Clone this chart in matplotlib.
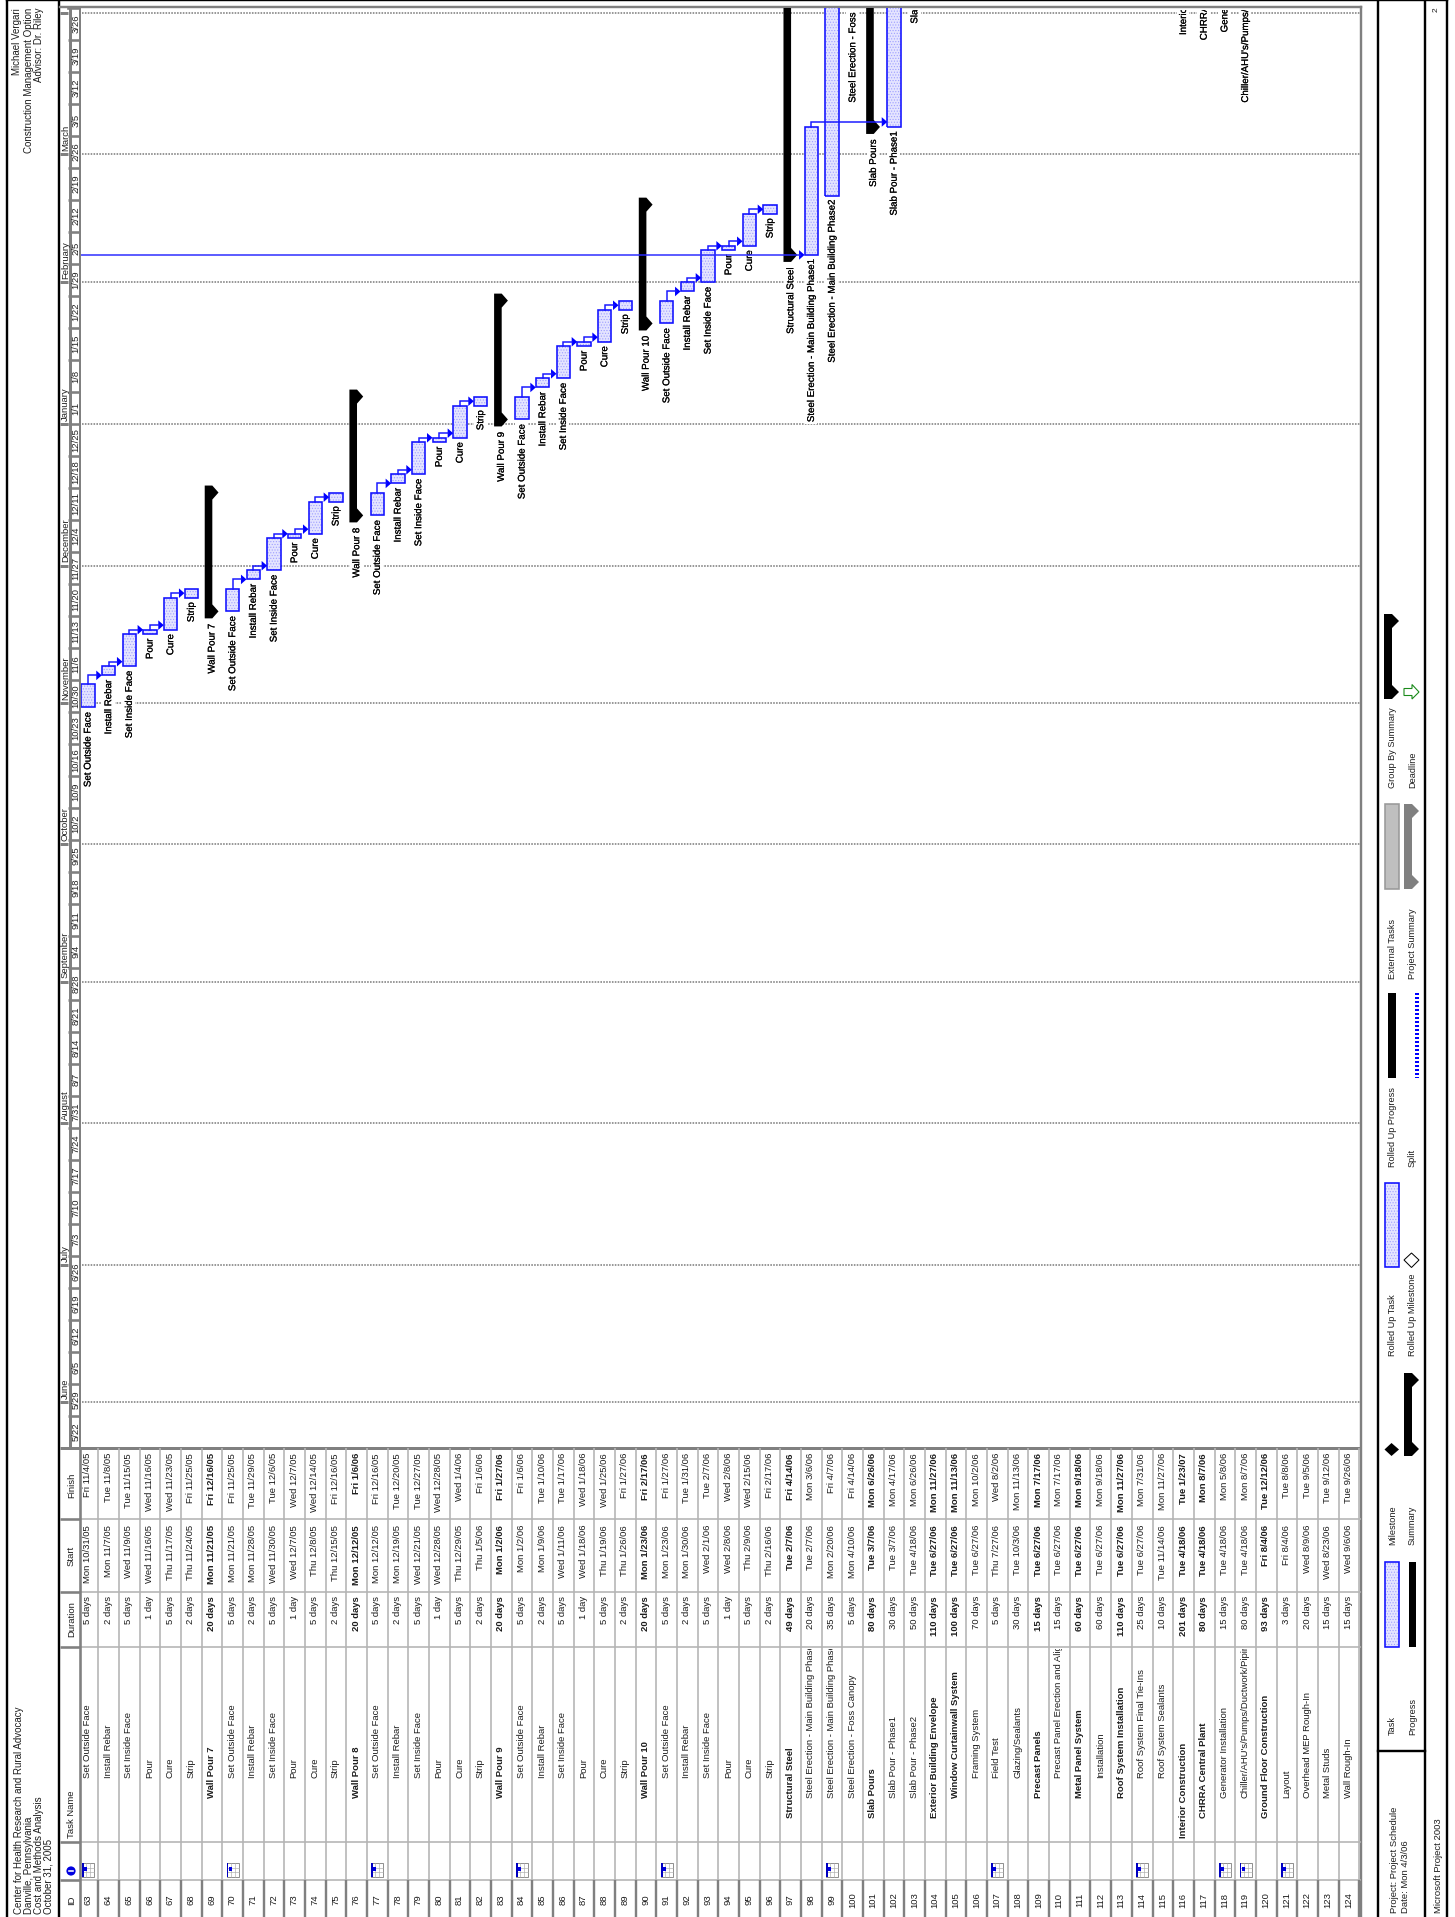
import datetime as dt
import matplotlib
matplotlib.use("Agg")
import matplotlib.pyplot as plt
import matplotlib.dates as mdates
import matplotlib.patheffects as pe
from matplotlib.patches import Polygon, Rectangle, Circle
from matplotlib.transforms import blended_transform_factory as blend, Bbox, TransformedBbox

plt.rcParams['font.family'] = ['Liberation Sans', 'DejaVu Sans']
plt.rcParams['hatch.linewidth'] = 0.5

# ---------- data ----------
ids = list(range(63, 125))
names = ["Set Outside Face","Install Rebar","Set Inside Face","Pour","Cure","Strip","Wall Pour 7",
 "Set Outside Face","Install Rebar","Set Inside Face","Pour","Cure","Strip","Wall Pour 8",
 "Set Outside Face","Install Rebar","Set Inside Face","Pour","Cure","Strip","Wall Pour 9",
 "Set Outside Face","Install Rebar","Set Inside Face","Pour","Cure","Strip","Wall Pour 10",
 "Set Outside Face","Install Rebar","Set Inside Face","Pour","Cure","Strip","Structural Steel",
 "Steel Erection - Main Building Phase1","Steel Erection - Main Building Phase2","Steel Erection - Foss Canopy",
 "Slab Pours","Slab Pour - Phase1","Slab Pour - Phase2","Exterior Building Envelope","Window Curtainwall System",
 "Framing System","Field Test","Glazing/Sealants","Precast Panels","Precast Panel Erection and Alignment",
 "Metal Panel System","Installation","Roof System Installation","Roof System Final Tie-Ins","Roof System Sealants",
 "Interior Construction","CHRRA Central Plant","Generator Installation","Chiller/AHU's/Pumps/Ductwork/Piping",
 "Ground Floor Construction","Layout","Overhead MEP Rough-In","Metal Studs","Wall Rough-In"]
table_cut_names = {98: "Steel Erection - Main Building Phase", 99: "Steel Erection - Main Building Phase",
                   110: "Precast Panel Erection and Alig", 119: "Chiller/AHU's/Pumps/Ductwork/Pipir"}
levels = [3,3,3,3,3,3,2, 3,3,3,3,3,3,2, 3,3,3,3,3,3,2, 3,3,3,3,3,3,2, 3,3,3,3,3,3,1,
 2,2,2, 1,2,2, 1,2, 3,3,3, 2,3, 2,3, 2,3,3, 0,1,2,2, 1,2,2,2,2]
summary_ids = [69,76,83,90,97,101,104,105,109,111,113,116,117,120]
durations = ["5 days","2 days","5 days","1 day","5 days","2 days","20 days",
 "5 days","2 days","5 days","1 day","5 days","2 days","20 days",
 "5 days","2 days","5 days","1 day","5 days","2 days","20 days",
 "5 days","2 days","5 days","1 day","5 days","2 days","20 days",
 "5 days","2 days","5 days","1 day","5 days","2 days","49 days",
 "20 days","35 days","5 days","80 days","30 days","50 days","110 days","100 days","70 days","5 days","30 days",
 "15 days","15 days","60 days","60 days","110 days","25 days","10 days","201 days","80 days","15 days","80 days",
 "93 days","3 days","20 days","15 days","15 days"]
starts = ["Mon 10/31/05","Mon 11/7/05","Wed 11/9/05","Wed 11/16/05","Thu 11/17/05","Thu 11/24/05","Mon 11/21/05",
 "Mon 11/21/05","Mon 11/28/05","Wed 11/30/05","Wed 12/7/05","Thu 12/8/05","Thu 12/15/05","Mon 12/12/05",
 "Mon 12/12/05","Mon 12/19/05","Wed 12/21/05","Wed 12/28/05","Thu 12/29/05","Thu 1/5/06","Mon 1/2/06",
 "Mon 1/2/06","Mon 1/9/06","Wed 1/11/06","Wed 1/18/06","Thu 1/19/06","Thu 1/26/06","Mon 1/23/06",
 "Mon 1/23/06","Mon 1/30/06","Wed 2/1/06","Wed 2/8/06","Thu 2/9/06","Thu 2/16/06","Tue 2/7/06",
 "Tue 2/7/06","Mon 2/20/06","Mon 4/10/06","Tue 3/7/06","Tue 3/7/06","Tue 4/18/06","Tue 6/27/06","Tue 6/27/06",
 "Tue 6/27/06","Thu 7/27/06","Tue 10/3/06","Tue 6/27/06","Tue 6/27/06","Tue 6/27/06","Tue 6/27/06","Tue 6/27/06",
 "Tue 6/27/06","Tue 11/14/06","Tue 4/18/06","Tue 4/18/06","Tue 4/18/06","Tue 4/18/06","Fri 8/4/06","Fri 8/4/06",
 "Wed 8/9/06","Wed 8/23/06","Wed 9/6/06"]
finishes = ["Fri 11/4/05","Tue 11/8/05","Tue 11/15/05","Wed 11/16/05","Wed 11/23/05","Fri 11/25/05","Fri 12/16/05",
 "Fri 11/25/05","Tue 11/29/05","Tue 12/6/05","Wed 12/7/05","Wed 12/14/05","Fri 12/16/05","Fri 1/6/06",
 "Fri 12/16/05","Tue 12/20/05","Tue 12/27/05","Wed 12/28/05","Wed 1/4/06","Fri 1/6/06","Fri 1/27/06",
 "Fri 1/6/06","Tue 1/10/06","Tue 1/17/06","Wed 1/18/06","Wed 1/25/06","Fri 1/27/06","Fri 2/17/06",
 "Fri 1/27/06","Tue 1/31/06","Tue 2/7/06","Wed 2/8/06","Wed 2/15/06","Fri 2/17/06","Fri 4/14/06",
 "Mon 3/6/06","Fri 4/7/06","Fri 4/14/06","Mon 6/26/06","Mon 4/17/06","Mon 6/26/06","Mon 11/27/06","Mon 11/13/06",
 "Mon 10/2/06","Wed 8/2/06","Mon 11/13/06","Mon 7/17/06","Mon 7/17/06","Mon 9/18/06","Mon 9/18/06","Mon 11/27/06",
 "Mon 7/31/06","Mon 11/27/06","Tue 1/23/07","Mon 8/7/06","Mon 5/8/06","Mon 8/7/06","Tue 12/12/06","Tue 8/8/06",
 "Tue 9/5/06","Tue 9/12/06","Tue 9/26/06"]
calendar_ids = [63,70,77,84,91,99,107,114,118,119,121]
links = [(63,64),(64,65),(65,66),(66,67),(67,68),(70,71),(71,72),(72,73),(73,74),(74,75),
         (77,78),(78,79),(79,80),(80,81),(81,82),(84,85),(85,86),(86,87),(87,88),(88,89),
         (91,92),(92,93),(93,94),(94,95),(95,96),(98,102)]
incoming_link = 98
week_labels = ["5/22","5/29","6/5","6/12","6/19","6/26","7/3","7/10","7/17","7/24","7/31","8/7","8/14","8/21","8/28",
 "9/4","9/11","9/18","9/25","10/2","10/9","10/16","10/23","10/30","11/6","11/13","11/20","11/27","12/4","12/11",
 "12/18","12/25","1/1","1/8","1/15","1/22","1/29","2/5","2/12","2/19","2/26","3/5","3/12","3/19","3/26"]
month_labels = ["June","July","August","September","October","November","December","January","February","March"]
month_dates = ["6/1/05","7/1/05","8/1/05","9/1/05","10/1/05","11/1/05","12/1/05","1/1/06","2/1/06","3/1/06"]
month_line_last = "4/1/06"
last_labelled_start = "4/30/06"

# ---------- helpers ----------
W, H = 1455, 1917
RPX, DPX = 20.67, 4.57   # px per row, px per day
FS = 7.0                 # gantt / header text
TFS = 6.8                # table and legend text
GRAY = '#808080'; LGRAY = '#b4b4b4'; BLUE = '#0000ff'
px = 0.72                # 1 px in points
DX = 1.5                 # optical centring of rotated text

def parse(s):
    s = s.split()[-1]
    m, d, y = s.split('/')
    return mdates.date2num(dt.datetime(2000 + int(y), int(m), int(d)))

def week_date(s):
    m, d = s.split('/')
    return mdates.date2num(dt.datetime(2005 if int(m) >= 5 else 2006, int(m), int(d)))

fig = plt.figure(figsize=(W/100, H/100), dpi=100, facecolor='white')
page = fig.add_axes([0, 0, 1, 1]); page.set_xlim(0, W); page.set_ylim(H, 0); page.axis('off')

def pax(x0, y0, x1, y1):
    return fig.add_axes([x0/W, 1-y1/H, (x1-x0)/W, (y1-y0)/H], facecolor='none')

d0 = mdates.date2num(dt.datetime(2006, 1, 1))
ylim = (d0-(1448-424)/DPX, d0+(424-8)/DPX)
gx0, gx1, gy0, gy1 = 81, 1361, 8, 1448
g = pax(gx0, gy0, gx1, gy1)
g.set_xlim(63+(gx0-88)/RPX, 63+(gx1-88)/RPX); g.set_ylim(*ylim); g.axis('off')
ts = pax(60, gy0, 81, gy1); ts.set_xlim(60, 81); ts.set_ylim(*ylim); ts.axis('off')
trow = blend(g.transData, page.transData)

S = {i: parse(s) for i, s in zip(ids, starts)}
F = {i: parse(s)+1 for i, s in zip(ids, finishes)}
N = dict(zip(ids, names))

def summary_shape(xl, xm, xr, yt, yb, cap):
    return [(xl, yb+cap), (xm, yb+cap), (xr, yb), (xm, yb-cap), (xm, yt+cap), (xr, yt), (xm, yt-cap), (xl, yt-cap)]

# ---------- frame ----------
for x in [7, 59, 1378, 1425, 1447]:
    page.plot([x, x], [0, H], color='k', lw=2.4*px, solid_capstyle='butt')
page.plot([7, 1447], [0.5, 0.5], color='k', lw=2.4*px)
page.plot([1378, 1425], [1751, 1751], color='k', lw=2.4*px)
page.plot([60, 1361], [7, 7], color=GRAY, lw=2.4*px)
page.plot([1361, 1361], [7, H], color=GRAY, lw=2.4*px)

# ---------- timescale ----------
for lx in [69.5, 79.5]:
    ts.plot([lx, lx], ylim, color=GRAY, lw=3*px, solid_capstyle='butt')
for w in week_labels:
    d = week_date(w)
    ts.plot([68, 81], [d, d], color=GRAY, lw=2.6*px, solid_capstyle='butt')
    ts.text(74.8+DX-0.5, d+3.5, w, rotation=90, ha='center', va='center', fontsize=TFS, color='#222222')
ts.plot([68, 81], [ylim[1], ylim[1]], color=GRAY, lw=2.6*px)
for m, s in zip(month_labels, month_dates):
    d = parse(s)
    ts.plot([60, 68], [d, d], color=GRAY, lw=3*px, solid_capstyle='butt')
    ts.text(64+DX, d+0.7, m, rotation=90, ha='center', va='bottom', fontsize=TFS, color='#222222')
ts.plot([60, 68], [parse(month_line_last)]*2, color=GRAY, lw=3*px, solid_capstyle='butt')

# ---------- month grid ----------
for s in month_dates + [month_line_last]:
    g.plot([63+(82-88)/RPX, g.get_xlim()[1]], [parse(s)]*2, color=GRAY, lw=1.6*px,
           linestyle=(0, (1, 0.8)), zorder=1)

# ---------- bars ----------
bw = 13.4/RPX
tasks = [i for i in ids if i not in summary_ids]
g.bar(tasks, [F[i]-S[i] for i in tasks], bottom=[S[i] for i in tasks], width=bw, facecolor='#e4e4ff',
      edgecolor='#a0a0ff', linewidth=0, hatch='......', zorder=2)
g.bar(tasks, [F[i]-S[i] for i in tasks], bottom=[S[i] for i in tasks], width=bw, fill=False,
      edgecolor='#1010ff', linewidth=1.6*px, zorder=2.1)
for i in summary_ids:
    pts = summary_shape(i-7.3/RPX, i+0.3/RPX, i+6.5/RPX, -F[i], -S[i], 7/DPX)
    g.add_patch(Polygon([(x, -y) for x, y in pts], closed=True, fc='k', ec='none', zorder=2.2))

# ---------- labels ----------
label_clip = TransformedBbox(Bbox([[gx0, 10], [gx1, gy1]]), page.transData)
for i in ids:
    if S[i] > parse(last_labelled_start):
        continue
    gap = 12.5 if i in summary_ids else 4.5
    t = g.text(i-0.5/RPX, S[i]-gap/DPX, N[i], rotation=90, ha='center', va='top', fontsize=FS, color='k',
               clip_on=True, zorder=3, bbox=dict(fc='white', ec='none', pad=1),
               path_effects=[pe.withStroke(linewidth=0.12, foreground='k')])
    t.set_clip_box(label_clip)

# ---------- links ----------
def arrow(row, y):
    tip = row - 6.9/RPX
    g.add_patch(Polygon([(tip, y), (tip-5.5/RPX, y+4.8/DPX), (tip-5.5/RPX, y-4.8/DPX)], closed=True,
                        fc=BLUE, ec='none', zorder=5))
    return tip - 5/RPX

for a, b in links:
    ya = F[a]
    y = max(ya + 4.5/DPX, S[b])
    if b == 102:
        y = ya + 5/DPX
    xe = arrow(b, y)
    g.plot([a, a, xe], [ya, y, y], color='#1818ff', lw=1.5*px, zorder=5, solid_joinstyle='miter')
y = S[incoming_link]
xe = arrow(incoming_link, y)
g.plot([g.get_xlim()[0], xe], [y, y], color='#2a2aff', lw=1.5*px, zorder=5)

# ---------- table ----------
page.plot([60, 1361], [1448, 1448], color=GRAY, lw=3*px, solid_capstyle='butt')
for y in [1519, 1592, 1647, 1842, 1880]:
    page.plot([79.5, 1361], [y, y], color=LGRAY, lw=1.6*px, solid_capstyle='butt')
    page.plot([60, 79.5], [y, y], color=GRAY, lw=2.6*px, solid_capstyle='butt')
page.plot([79.5, 79.5], [1448, H], color=GRAY, lw=2.6*px, solid_capstyle='butt')
for i in ids:
    page.plot([i+0.5, i+0.5], [1448, 1880], transform=trow, color=LGRAY, lw=1.6*px, solid_capstyle='butt')
    page.plot([i+0.5, i+0.5], [1880, H], transform=trow, color=GRAY, lw=2.4*px, solid_capstyle='butt')

TC = '#1c1c1c'
name_clip = TransformedBbox(Bbox([[0, 1649], [W, 1842]]), page.transData)
level_y = [1838, 1818, 1798, 1778]
for i, nm, lv, du, st, fi in zip(ids, names, levels, durations, starts, finishes):
    w = 'bold' if i in summary_ids else 'normal'
    tx = i - 0.5/RPX
    page.text(tx, 1900, str(i), transform=trow, rotation=90, ha='center', va='center', fontsize=TFS, color=TC)
    t = page.text(tx, level_y[lv], table_cut_names.get(i, nm), transform=trow, rotation=90, ha='center', va='bottom',
                  fontsize=TFS, color=TC, fontweight=w, clip_on=True)
    t.set_clip_box(name_clip)
    page.text(tx, 1596, du, transform=trow, rotation=90, ha='center', va='top', fontsize=TFS, color=TC, fontweight=w)
    page.text(tx, 1525, st, transform=trow, rotation=90, ha='center', va='top', fontsize=TFS, color=TC, fontweight=w)
    page.text(tx, 1453, fi, transform=trow, rotation=90, ha='center', va='top', fontsize=TFS, color=TC, fontweight=w)

for (y, s, va) in [(1900, "ID", 'center'), (1838, "Task Name", 'bottom'), (1619, "Duration", 'center'),
                   (1556, "Start", 'center'), (1485, "Finish", 'center')]:
    page.text(70+DX, y, s, rotation=90, ha='center', va=va, fontsize=TFS, color=TC)

page.add_patch(Circle((71, 1871), 4.6, fc='#0000e0', ec='none'))
page.plot([69, 73], [1871, 1871], color='white', lw=1.6*px)
for i in calendar_ids:
    c = page.transData.inverted().transform(trow.transform((i, 1870)))[0]
    page.add_patch(Rectangle((c-6, 1863), 12, 14, fc='white', ec='#777777', lw=0.8*px, zorder=3))
    for k in range(1, 3):
        page.plot([c-6, c+6], [1863+k*14/3]*2, color='#aaaaaa', lw=0.6*px, zorder=3.1)
        page.plot([c-6+k*4, c-6+k*4], [1863, 1877], color='#aaaaaa', lw=0.6*px, zorder=3.1)
    page.add_patch(Rectangle((c-6, 1863), 1.8, 14, fc='#0000c0', ec='none', zorder=3.2))
    page.add_patch(Rectangle((c-4, 1867), 3, 4, fc='#0000e0', ec='none', zorder=3.2))

# ---------- header / footer text ----------
for x, s in [(18, "Center for Health Research and Rural Advocacy"), (27.5, "Danville, Pennsylvania"),
             (37.5, "Cost and Methods Analysis"), (47, "October 31, 2005")]:
    page.text(x+DX, 1914, s, rotation=90, ha='center', va='bottom', fontsize=FS, color=TC)
for x, s in [(16, "Michael Vergari"), (27, "Construction Management Option"), (38, "Advisor: Dr. Riley")]:
    page.text(x+DX, 8, s, rotation=90, ha='center', va='top', fontsize=FS, color=TC)
page.text(1435+DX, 10, "2", rotation=90, ha='center', va='center', fontsize=FS-1, color=TC)
page.text(1393+DX, 1913, "Project: Project Schedule", rotation=90, ha='center', va='bottom', fontsize=TFS, color=TC)
page.text(1404+DX, 1913, "Date: Mon 4/3/06", rotation=90, ha='center', va='bottom', fontsize=TFS, color=TC)
page.text(1437+DX, 1913, "Microsoft Project 2003", rotation=90, ha='center', va='bottom', fontsize=TFS, color=TC)

# ---------- legend ----------
C1, C2 = 1391+DX, 1411+DX
for x, end, s in [(C1, 788, "Group By Summary"), (C2, 788, "Deadline"), (C1, 979, "External Tasks"),
                  (C2, 979, "Project Summary"), (C1, 1167, "Rolled Up Progress"), (C2, 1167, "Split"),
                  (C1, 1356, "Rolled Up Task"), (C2, 1356, "Rolled Up Milestone"), (C1, 1545, "Milestone"),
                  (C2, 1545, "Summary"), (C1, 1735, "Task"), (C2, 1735, "Progress")]:
    page.text(x, end, s, rotation=90, ha='center', va='bottom', fontsize=TFS-0.2, color=TC)

def leg_box(x, y0, y1):
    page.add_patch(Rectangle((x, y0), 14.5, y1-y0, fc='#e4e4ff', ec='#a0a0ff', lw=0, hatch='......', zorder=2))
    page.add_patch(Rectangle((x, y0), 14.5, y1-y0, fill=False, ec='#1010ff', lw=1.6*px, zorder=2.1))

leg_box(1384.5, 1183, 1267)
leg_box(1384.5, 1562, 1647)
page.add_patch(Polygon(summary_shape(1384, 1392, 1399, 621, 692, 7), closed=True, fc='k', ec='none'))
page.add_patch(Polygon(summary_shape(1404, 1412, 1419, 1380, 1449, 7), closed=True, fc='k', ec='none'))
page.add_patch(Polygon(summary_shape(1404, 1412, 1419, 811, 882, 7), closed=True, fc=GRAY, ec='none'))
page.add_patch(Rectangle((1384.5, 804), 14, 85, fc='#bfbfbf', ec='#999999', lw=1.6*px))
page.add_patch(Rectangle((1387.5, 993), 8, 85, fc='k', ec='none'))
page.add_patch(Rectangle((1409, 1562), 7, 85, fc='k', ec='none'))
page.plot([1417, 1417], [993, 1078], color=BLUE, lw=4*px, linestyle=(0, (0.5, 0.5)))
page.add_patch(Polygon([(1404, 688.5), (1412, 688.5), (1412, 684.5), (1419, 692), (1412, 699), (1412, 695.5), (1404, 695.5)],
                       closed=True, fc='white', ec='#1a8a1a', lw=1.1*px))
page.add_patch(Polygon([(1404, 1260), (1411.5, 1253), (1419, 1260), (1411.5, 1267.5)], closed=True, fc='white', ec='k', lw=1*px))
page.add_patch(Polygon([(1384.5, 1449.5), (1391.5, 1443), (1399, 1449.5), (1391.5, 1456)], closed=True, fc='k', ec='none'))

fig.savefig('out.png', dpi=100, facecolor='white')
